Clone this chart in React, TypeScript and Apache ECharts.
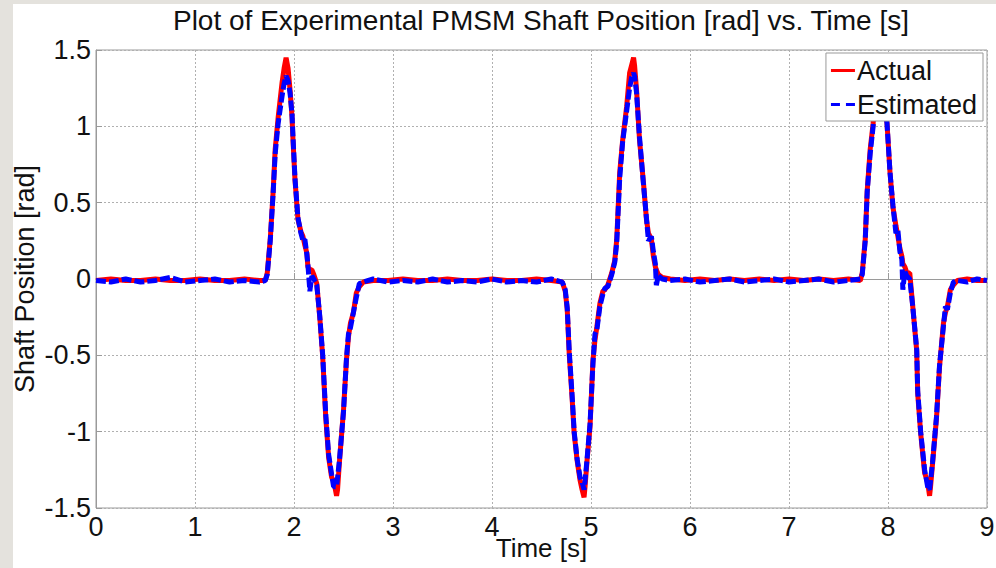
import React, { useEffect, useRef } from "react";
import * as echarts from "echarts";

const time = [
  0.00, 0.15, 0.30, 0.45, 0.60, 0.75, 0.90, 1.05, 1.20, 1.35, 1.50, 1.65, 1.71,
  1.73, 1.76, 1.79, 1.81, 1.84, 1.88, 1.90, 1.92, 1.94, 1.96, 1.98, 1.99, 2.01,
  2.04, 2.07, 2.09, 2.11, 2.13, 2.14, 2.16, 2.18, 2.20, 2.23, 2.26, 2.29, 2.32,
  2.35, 2.38, 2.40, 2.43, 2.44, 2.46, 2.50, 2.53, 2.55, 2.57, 2.60, 2.63, 2.66,
  2.70, 2.80, 2.95, 3.10, 3.25, 3.40, 3.55, 3.70, 3.85, 4.00, 4.15, 4.30, 4.45,
  4.60, 4.71, 4.74, 4.76, 4.78, 4.81, 4.83, 4.86, 4.89, 4.91, 4.93, 4.94, 4.96,
  4.99, 5.02, 5.04, 5.06, 5.09, 5.12, 5.14, 5.17, 5.21, 5.24, 5.26, 5.29, 5.32,
  5.36, 5.39, 5.41, 5.43, 5.44, 5.46, 5.49, 5.53, 5.56, 5.58, 5.61, 5.63, 5.65,
  5.66, 5.68, 5.72, 5.80, 5.95, 6.10, 6.25, 6.40, 6.55, 6.70, 6.85, 7.00, 7.15,
  7.30, 7.45, 7.60, 7.72, 7.74, 7.77, 7.79, 7.82, 7.85, 7.88, 7.90, 7.92, 7.96,
  7.99, 8.02, 8.05, 8.08, 8.10, 8.12, 8.14, 8.15, 8.17, 8.19, 8.22, 8.25, 8.29,
  8.30, 8.33, 8.37, 8.40, 8.42, 8.43, 8.45, 8.49, 8.52, 8.56, 8.58, 8.60, 8.63,
  8.66, 8.70, 8.80, 8.90, 9.00,
];

const actual = [
  -0.01, 0.00, -0.01, -0.01, 0.00, -0.01, -0.01, 0.00, -0.01, -0.01, 0.00, -0.01, -0.01,
  0.04, 0.26, 0.58, 0.85, 1.06, 1.29, 1.38, 1.45, 1.38, 1.24, 1.06, 0.91, 0.65,
  0.39, 0.31, 0.28, 0.22, 0.17, 0.08, 0.06, 0.06, 0.03, -0.03, -0.25, -0.51, -0.90,
  -1.17, -1.30, -1.32, -1.42, -1.38, -1.19, -0.86, -0.53, -0.38, -0.29, -0.22, -0.09, -0.05,
  -0.02, -0.01, -0.01, 0.00, -0.01, -0.01, 0.00, -0.01, -0.01, 0.00, -0.01, -0.01, 0.00,
  -0.01, -0.02, -0.08, -0.20, -0.49, -0.79, -1.01, -1.19, -1.32, -1.38, -1.43, -1.36, -1.19,
  -0.97, -0.53, -0.40, -0.31, -0.16, -0.08, -0.07, -0.04, 0.04, 0.12, 0.26, 0.70, 0.91,
  1.13, 1.35, 1.40, 1.45, 1.40, 1.24, 0.91, 0.63, 0.39, 0.30, 0.26, 0.15, 0.08,
  0.06, 0.03, 0.01, 0.00, -0.01, 0.00, -0.01, 0.00, -0.01, 0.00, -0.01, 0.00, -0.01,
  0.00, -0.01, 0.00, -0.01, 0.04, 0.26, 0.58, 0.85, 1.02, 1.30, 1.45, 1.40, 1.20,
  1.02, 0.70, 0.47, 0.35, 0.28, 0.20, 0.15, 0.10, 0.08, 0.04, 0.04, -0.18, -0.47,
  -0.75, -1.01, -1.27, -1.33, -1.42, -1.36, -1.21, -0.91, -0.58, -0.29, -0.22, -0.18, -0.07,
  -0.04, -0.01, 0.00, -0.01, -0.01,
];

const estimated = [
  -0.01, -0.02, 0.00, -0.02, -0.01, 0.01, -0.02, -0.01, 0.00, -0.02, -0.01, -0.02, -0.01,
  0.03, 0.25, 0.57, 0.82, 1.02, 1.20, 1.28, 1.33, 1.30, 1.22, 1.08, 0.93, 0.66,
  0.40, 0.30, 0.25, 0.26, 0.16, 0.10, -0.08, 0.02, 0.00, -0.04, -0.24, -0.50, -0.88,
  -1.15, -1.28, -1.36, -1.36, -1.30, -1.18, -0.87, -0.52, -0.36, -0.32, -0.22, -0.12, -0.03,
  -0.02, 0.00, -0.02, -0.01, -0.02, 0.00, -0.02, -0.01, -0.02, 0.00, -0.02, -0.01, -0.02,
  0.00, -0.02, -0.07, -0.19, -0.47, -0.77, -1.00, -1.18, -1.30, -1.33, -1.38, -1.32, -1.18,
  -0.95, -0.55, -0.36, -0.33, -0.18, -0.10, -0.06, -0.05, 0.03, 0.11, 0.24, 0.66, 0.90,
  1.10, 1.25, 1.32, 1.35, 1.33, 1.22, 0.93, 0.62, 0.40, 0.25, 0.28, 0.18, 0.10,
  -0.04, 0.02, 0.00, -0.01, 0.00, -0.02, -0.01, 0.00, -0.02, -0.01, 0.00, -0.02, -0.01,
  0.00, -0.02, -0.01, 0.00, 0.03, 0.25, 0.57, 0.82, 1.00, 1.22, 1.33, 1.30, 1.18,
  1.02, 0.70, 0.48, 0.30, 0.32, 0.18, 0.13, -0.07, 0.05, 0.02, 0.00, -0.18, -0.46,
  -0.73, -1.00, -1.25, -1.36, -1.38, -1.32, -1.20, -0.90, -0.57, -0.31, -0.18, -0.20, -0.09,
  -0.02, -0.01, -0.02, 0.00, -0.01,
];

const xTicks = [0, 9, 1];
const yTicks = [-1.5, 1.5, 0.5];

const FONT = "'Liberation Sans', Arial, sans-serif";
const FS = 27;

export default function App() {
  const ref = useRef<HTMLDivElement>(null);
  useEffect(() => {
    if (!ref.current) return;
    const chart = echarts.init(ref.current, null, { renderer: "svg" });
    const actualData = time.map((t, i) => [t, actual[i]]);
    const estData = time.map((t, i) => [t, estimated[i]]);
    chart.setOption({
      animation: false,
      textStyle: { fontFamily: FONT },
      title: {
        text: "Plot of Experimental PMSM Shaft Position [rad] vs. Time [s]",
        left: 536,
        textAlign: "center",
        top: 1,
        textStyle: { fontFamily: FONT, fontSize: 28, fontWeight: "normal", color: "#111" },
      },
      legend: {
        orient: "vertical",
        right: 13,
        top: 53,
        backgroundColor: "#fff",
        borderColor: "#999",
        borderWidth: 1,
        borderRadius: 0,
        padding: [4, 6, 3, 5],
        itemWidth: 24,
        itemHeight: 3,
        itemGap: 7,
        textStyle: { fontFamily: FONT, fontSize: FS, color: "#111", padding: [0, 0, 0, -3] },
        data: [
          { name: "Actual", icon: "rect", itemStyle: { color: "#ff0000" } },
          { name: "Estimated", icon: "path://M0,0h9v3H0z M15,0h9v3H15z", itemStyle: { color: "#0000ff" } },
        ],
        z: 10,
      },
      grid: {
        left: 96,
        right: 9,
        top: 50,
        bottom: 60,
        outerBoundsMode: "none",
        containLabel: false,
        show: true,
        borderColor: "#9a9a9a",
        borderWidth: 1,
        backgroundColor: "#fff",
      },
      xAxis: {
        type: "value",
        min: xTicks[0],
        max: xTicks[1],
        interval: xTicks[2],
        name: "Time [s]",
        nameLocation: "middle",
        nameGap: 27,
        nameMoveOverlap: false,
        nameTextStyle: { fontFamily: FONT, fontSize: 26, color: "#111", verticalAlign: "top" },
        axisLine: { show: true, lineStyle: { color: "#9a9a9a" } },
        axisTick: { show: true, inside: true, length: 6, lineStyle: { color: "#9a9a9a" } },
        axisLabel: { fontFamily: FONT, fontSize: FS, color: "#111", margin: 5 },
        splitLine: { show: true, lineStyle: { color: "#b0b0b0", type: [2, 2], width: 1 } },
      },
      yAxis: {
        type: "value",
        min: yTicks[0],
        max: yTicks[1],
        interval: yTicks[2],
        name: "Shaft Position [rad]",
        nameLocation: "middle",
        nameGap: 58,
        nameMoveOverlap: false,
        nameTextStyle: { fontFamily: FONT, fontSize: FS, color: "#111" },
        axisLine: { show: true, lineStyle: { color: "#9a9a9a" } },
        axisTick: { show: true, inside: true, length: 6, lineStyle: { color: "#9a9a9a" } },
        axisLabel: { fontFamily: FONT, fontSize: FS, color: "#111", margin: 5 },
        splitLine: { show: true, lineStyle: { color: "#b0b0b0", type: [2, 2], width: 1 } },
      },
      series: [
        {
          name: "Actual",
          type: "line",
          data: actualData,
          symbol: "none",
          showSymbol: false,
          color: "#ff0000",
          lineStyle: { color: "#ff0000", width: 5 },
          z: 2,
        },
        {
          name: "Estimated",
          type: "line",
          data: estData,
          symbol: "none",
          showSymbol: false,
          color: "#0000ff",
          lineStyle: { color: "#0000ff", width: 5, type: [10, 3] },
          z: 3,
        },
      ],
    });
    return () => chart.dispose();
  }, []);

  return (
    <div style={{ position: "absolute", left: 0, top: 0, width: 996, height: 568, background: "#e4e2dd", overflow: "hidden" }}>
      <div style={{ position: "absolute", left: 13, top: 4, right: 0, bottom: 0, background: "#ffffff" }} />
      <div ref={ref} style={{ position: "absolute", left: 0, top: 0, width: 996, height: 568 }} />
    </div>
  );
}
